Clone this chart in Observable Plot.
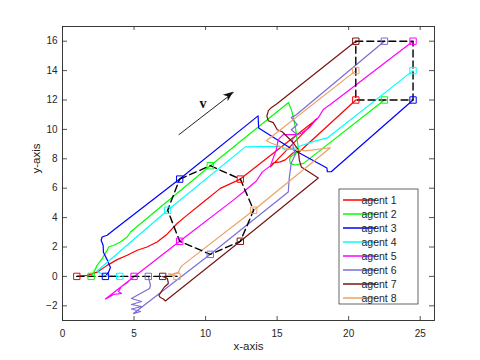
<!DOCTYPE html>
<html><head><meta charset="utf-8">
<script src="https://cdn.jsdelivr.net/npm/d3@7"></script>
<script src="https://cdn.jsdelivr.net/npm/@observablehq/plot@0.6"></script>
<style>body{margin:0;background:#fff}#chart{width:480px;height:360px}</style>
</head><body><div id="chart"></div>
<script>
const agents = ["agent 1","agent 2","agent 3","agent 4","agent 5","agent 6","agent 7","agent 8"];
const colors = ["#ff0000","#00ff00","#0000ff","#00ffff","#ff00ff","#7b6cd8","#7a1414","#eca264"];
const xTicks = [0,5,10,15,20,25];
const yTicks = [-2,0,2,4,6,8,10,12,14,16];

// formation positions (start, middle octagon, final rectangle)
const startPos = [[1,0],[2,0],[3,0],[4,0],[5,0],[6,0],[7,0],[8,0]];
const midPos = [[12.43,6.62],[10.33,7.53],[8.19,6.62],[7.35,4.5],[8.19,2.39],[10.33,1.5],[12.43,2.39],[13.36,4.5]];
const endPos = [[20.5,12],[22.5,12],[24.5,12],[24.5,14],[24.5,16],[22.5,16],[20.5,16],[20.5,14]];

// waypoints between start and middle formation
const leg1 = [
  [[1.72,0.07],[2.42,0.29],[3.12,0.75],[3.82,1.14],[4.52,1.44],[5.22,1.78],[5.91,2.0],[6.61,2.34],[7.31,2.87],[8.01,3.6],[8.71,4.17],[9.87,5.08],[11.03,5.99]],
  [[2.19,0.29],[2.42,0.75],[2.77,1.21],[3.12,1.77],[3.23,2.0],[3.58,2.12],[4.05,2.34],[4.52,2.68],[4.75,3.02]],
  [[3.21,0.27],[3.35,0.61],[3.14,1.09],[2.86,1.64],[2.84,2.12],[2.70,2.46],[2.77,2.68],[3.12,2.80],[3.56,3.14]],
  [[3.0,0.05],[2.4,0.35]],
  [[4.54,-0.41],[4.12,-0.68],[3.91,-1.03],[4.12,-1.16],[3.56,-1.23],[3.21,-1.44],[3.0,-1.54]],
  [[6.15,-0.62],[6.08,-0.82],[5.45,-1.16],[4.82,-1.5],[5.52,-1.71],[4.82,-1.91],[5.52,-2.05],[4.82,-2.22],[5.45,-2.39],[4.96,-2.53]],
  [[7.33,-0.14],[7.4,-0.48],[7.12,-0.72],[6.95,-0.96],[6.74,-1.3],[6.84,-1.44],[7.05,-1.54],[7.19,-1.67]],
  [[7.4,0.17],[7.75,0.14],[8.1,0.27],[8.21,0.55],[8.38,0.75]]
];
// waypoints between middle and final formation
const leg2 = [
  [[17.81,10.73],[14.53,7.45],[14.73,7.72],[15.22,7.79],[15.57,7.93],[16.13,8.41],[16.48,8.41]],
  [[15.8,11.83],[16.04,11.21],[16.27,10.19],[16.5,8.6],[16.27,8.33],[15.92,8.12],[15.87,7.92],[15.92,7.69],[16.27,7.58],[16.85,7.69]],
  [[13.67,10.92],[13.71,10.10],[15.92,8.74],[18.48,7.37],[18.51,7.12],[18.78,7.12]],
  [[12.78,8.81],[15.22,8.84],[15.57,8.6],[16.06,8.67],[16.62,8.87],[17.46,9.15],[18.51,9.42]],
  [[11.94,5.19],[12.64,5.74],[13.55,6.49],[13.97,7.11],[14.53,7.52],[14.94,8.61],[15.08,9.3],[15.43,9.64],[16.41,9.64],[16.76,9.77],[17.32,10.18],[17.67,10.66],[17.88,10.8],[18.23,11.35],[18.51,11.55],[18.72,11.69]],
  [[15.78,5.74],[15.85,6.7],[15.99,7.72],[16.27,8.27],[16.13,8.75],[16.06,9.3],[16.41,9.64],[15.99,9.98],[16.41,10.32],[15.99,10.8],[16.34,11.0]],
  [[17.88,6.7],[16.69,7.45],[16.55,7.93],[16.48,8.61],[16.13,9.09],[15.71,9.5],[15.36,9.84],[15.01,9.98],[14.73,10.46],[14.39,10.59],[14.28,10.9],[14.39,11.28],[14.59,11.48],[15.01,11.76]],
  [[18.72,8.75],[16.97,8.54],[16.41,8.61],[15.43,8.75],[14.53,9.09],[14.25,9.23]]
];

// formation outline orders (agent indices)
const startOrder = [0,1,2,3,4,5,6,7];
const midOrder = [2,1,0,7,6,5,4,3,2];
const endOrder = [6,4,2,0,6];

const velArrow = [{x1:8.12,y1:9.63,x2:11.96,y2:12.52}];
const velLabel = [{x:9.82,y:11.79,text:"v"}];

const pathRows = [];
agents.forEach((a,i)=>{
  const pts = [startPos[i], ...leg1[i], midPos[i], ...leg2[i], endPos[i]];
  pts.forEach(([x,y])=>pathRows.push({agent:a,x,y}));
});
const toRows = (pos) => pos.map(([x,y],i)=>({agent:agents[i],x,y}));
const outline = (pos, order) => order.map(i=>({x:pos[i][0],y:pos[i][1]}));

const axisColor = "#262626";
const plot = Plot.plot({
  width:480, height:360,
  marginTop:26, marginRight:46, marginBottom:40, marginLeft:62,
  style:{fontFamily:"'Liberation Sans', Arial, sans-serif", fontSize:"10px", background:"#fff", color:axisColor},
  x:{domain:[0,26]},
  y:{domain:[-3,17]},
  color:{domain:agents, range:colors},
  marks:[
    Plot.line(pathRows,{x:"x",y:"y",z:"agent",stroke:"agent",strokeWidth:1.2,curve:"linear"}),
    Plot.line(outline(startPos,startOrder),{x:"x",y:"y",stroke:"#000",strokeWidth:1.4,strokeDasharray:"7,4"}),
    Plot.line(outline(midPos,midOrder),{x:"x",y:"y",stroke:"#000",strokeWidth:1.4,strokeDasharray:"7,4"}),
    Plot.line(outline(endPos,endOrder),{x:"x",y:"y",stroke:"#000",strokeWidth:1.4,strokeDasharray:"7,4"}),
    Plot.dot(toRows(startPos),{x:"x",y:"y",stroke:"agent",symbol:"square",r:3.6,strokeWidth:1}),
    Plot.dot(toRows(midPos),{x:"x",y:"y",stroke:"agent",symbol:"square",r:3.6,strokeWidth:1}),
    Plot.dot(toRows(endPos),{x:"x",y:"y",stroke:"agent",symbol:"square",r:3.6,strokeWidth:1}),
    Plot.link(velArrow,{x1:"x1",y1:"y1",x2:"x2",y2:"y2",stroke:"#222",strokeWidth:1}),
    Plot.text(velLabel,{x:"x",y:"y",text:"text",fontFamily:"'Liberation Serif', 'DejaVu Serif', serif",fontWeight:"bold",fontSize:14,fill:"#111"}),
    Plot.frame({stroke:axisColor,strokeWidth:0.9}),
    Plot.tickX(xTicks,{x:d=>d,insetTop:290,stroke:axisColor,strokeWidth:0.8}),
    Plot.tickX(xTicks,{x:d=>d,insetBottom:290,stroke:axisColor,strokeWidth:0.8}),
    Plot.tickY(yTicks,{y:d=>d,insetRight:367,stroke:axisColor,strokeWidth:0.8}),
    Plot.tickY(yTicks,{y:d=>d,insetLeft:367,stroke:axisColor,strokeWidth:0.8}),
    Plot.axisX(xTicks,{tickSize:0,tickPadding:9,label:null,fill:axisColor}),
    Plot.axisY(yTicks,{tickSize:0,tickPadding:5,label:null,fill:axisColor}),
    Plot.text(["x-axis"],{frameAnchor:"bottom",dy:29,fontSize:11.5,fill:axisColor}),
    Plot.text(["y-axis"],{frameAnchor:"left",dx:-26,rotate:-90,fontSize:11.5,fill:axisColor})
  ]
});
document.getElementById("chart").appendChild(plot);

// filled arrow head and legend drawn with the plot's scales
const sx = plot.scale("x"), sy = plot.scale("y");
const fx = d3.scaleLinear(sx.domain, sx.range), fy = d3.scaleLinear(sy.domain, sy.range);
const svg = d3.select(plot);
velArrow.forEach(a=>{
  const x0=fx(a.x1), y0=fy(a.y1), x1=fx(a.x2), y1=fy(a.y2);
  const L=Math.hypot(x1-x0,y1-y0), ux=(x1-x0)/L, uy=(y1-y0)/L, nx=-uy, ny=ux;
  const hl=10, hw=4, notch=7;
  const pts=[[x1,y1],[x1-hl*ux+hw*nx,y1-hl*uy+hw*ny],[x1-notch*ux,y1-notch*uy],[x1-hl*ux-hw*nx,y1-hl*uy-hw*ny]];
  svg.append("polygon").attr("points",pts.map(p=>p.join(",")).join(" ")).attr("fill","#111");
});
const lg = svg.append("g");
lg.append("rect").attr("x",339).attr("y",189).attr("width",79).attr("height",115)
  .attr("fill","#fff").attr("stroke",axisColor).attr("stroke-width",0.7);
agents.forEach((a,i)=>{
  const yy = 200 + i*14;
  lg.append("line").attr("x1",343).attr("x2",376).attr("y1",yy).attr("y2",yy)
    .attr("stroke",colors[i]).attr("stroke-width",1.6);
  lg.append("text").attr("x",379).attr("y",yy).attr("dy","0.35em")
    .attr("font-size",10.5).attr("fill",axisColor).text(a);
});
</script></body></html>
